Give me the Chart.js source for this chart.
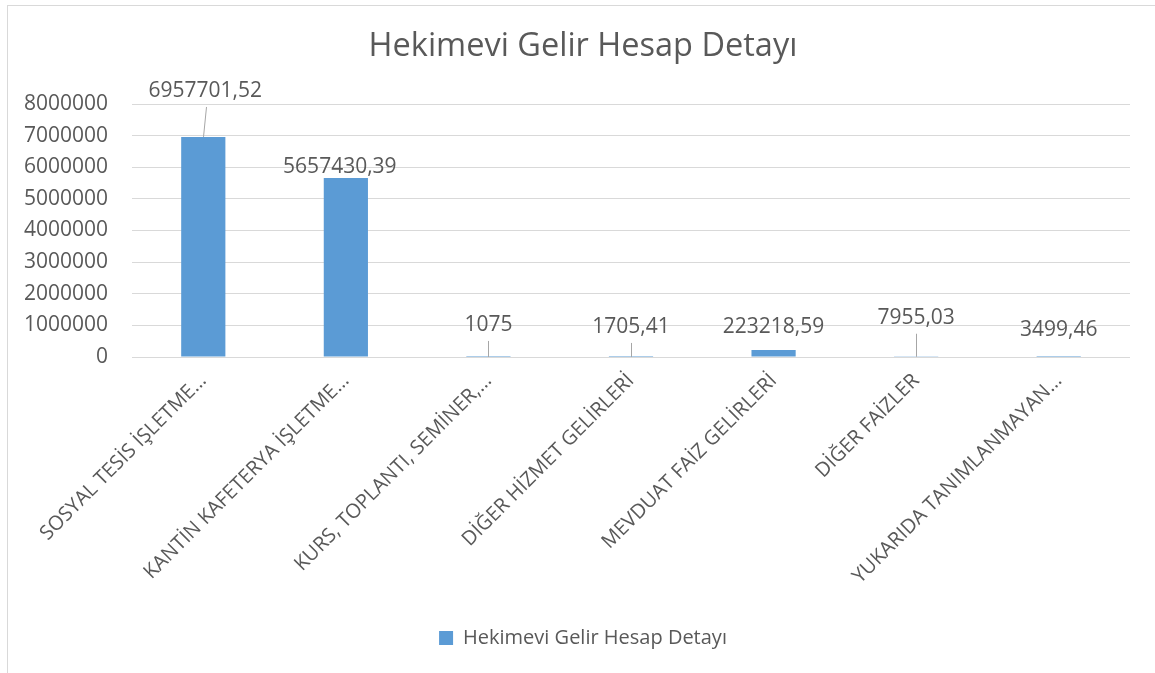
<!DOCTYPE html>
<html>
<head>
<meta charset="utf-8">
<script src="https://cdn.jsdelivr.net/npm/chart.js@4/dist/chart.umd.min.js"></script>
<style>
  html, body { margin: 0; padding: 0; background: #fff; width: 1155px; height: 673px; overflow: hidden; }
  #frame { position: absolute; left: 7px; top: 5px; width: 1170px; height: 700px; border: 1px solid #d9d9d9; box-sizing: border-box; }
  #wrap { position: absolute; left: 0; top: 0; width: 1155px; height: 673px; }
</style>
</head>
<body>
<div id="frame"></div>
<div id="wrap"><canvas id="c" width="1155" height="673"></canvas></div>
<script>
const chartTitle = 'Hekimevi Gelir Hesap Detayı';
const seriesName = 'Hekimevi Gelir Hesap Detayı';
const categories = [
  'SOSYAL TESİS İŞLETME…',
  'KANTİN KAFETERYA İŞLETME…',
  'KURS, TOPLANTI, SEMİNER,…',
  'DİĞER HİZMET GELİRLERİ',
  'MEVDUAT FAİZ GELİRLERİ',
  'DİĞER FAİZLER',
  'YUKARIDA TANIMLANMAYAN…'
];
const values = [6957701.52, 5657430.39, 1075, 1705.41, 223218.59, 7955.03, 3499.46];
const yTicks = [0, 1000000, 2000000, 3000000, 4000000, 5000000, 6000000, 7000000, 8000000];

// label placement (style): offset from bar top in px, and whether a leader line is drawn
const labelStyle = [
  { dx: 2, dy: 46, leader: true },
  { dx: -6, dy: 11, leader: false },
  { dx: 0, dy: 32, leader: true },
  { dx: 0, dy: 30, leader: true },
  { dx: 0, dy: 23, leader: false },
  { dx: 0, dy: 39, leader: true },
  { dx: 0, dy: 27, leader: false }
];

const textColor = '#595959';
const fontFamily = '"Open Sans", "Noto Sans", sans-serif';

function fmt(v) { return String(v).replace('.', ','); }

const dataLabels = {
  id: 'dataLabels',
  afterDatasetsDraw(chart) {
    const ctx = chart.ctx;
    const meta = chart.getDatasetMeta(0);
    ctx.save();
    ctx.font = '21px ' + fontFamily;
    ctx.fillStyle = textColor;
    ctx.textAlign = 'center';
    ctx.textBaseline = 'middle';
    meta.data.forEach((el, i) => {
      const s = labelStyle[i];
      const lx = el.x + s.dx;
      const ly = el.y - s.dy;
      ctx.fillText(fmt(values[i]), lx, ly);
      if (s.leader) {
        ctx.beginPath();
        ctx.strokeStyle = '#a6a6a6';
        ctx.lineWidth = 1;
        ctx.moveTo(Math.round(lx + s.dx * 0.5) + 0.5, ly + 16);
        ctx.lineTo(Math.round(el.x) + 0.5, el.y);
        ctx.stroke();
      }
    });
    ctx.restore();
  }
};

new Chart(document.getElementById('c'), {
  type: 'bar',
  data: {
    labels: categories,
    datasets: [{
      label: seriesName,
      data: values,
      backgroundColor: '#5B9BD5',
      borderWidth: 0,
      categoryPercentage: 1,
      barPercentage: 0.31
    }]
  },
  options: {
    responsive: false,
    animation: false,
    layout: { padding: { left: 11, right: 0, top: 0, bottom: 15 } },
    plugins: {
      title: {
        display: true,
        text: chartTitle,
        color: textColor,
        font: { family: fontFamily, size: 32.5, weight: 'normal' },
        padding: { top: 27, bottom: 38 }
      },
      legend: {
        display: true,
        position: 'bottom',
        labels: {
          color: textColor,
          font: { family: fontFamily, size: 20 },
          boxWidth: 14,
          boxHeight: 14,
          padding: 10
        }
      },
      tooltip: { enabled: false }
    },
    scales: {
      x: {
        grid: { display: false },
        border: { display: false },
        ticks: {
          color: textColor,
          font: { family: fontFamily, size: 20 },
          autoSkip: false,
          maxRotation: 45,
          minRotation: 45,
          padding: 4
        },
        afterFit(scale) { scale.height = 261; scale.paddingRight = 25; }
      },
      y: {
        min: 0,
        max: 8000000,
        afterBuildTicks(scale) { scale.ticks = yTicks.map(v => ({ value: v })); },
        grid: { color: '#d9d9d9', lineWidth: 1, drawTicks: false },
        border: { display: false },
        ticks: {
          color: textColor,
          font: { family: fontFamily, size: 21 },
          padding: 24,
          callback: v => String(v)
        },
        afterFit(scale) { scale.width = 121; }
      }
    }
  },
  plugins: [dataLabels]
});
</script>
</body>
</html>
